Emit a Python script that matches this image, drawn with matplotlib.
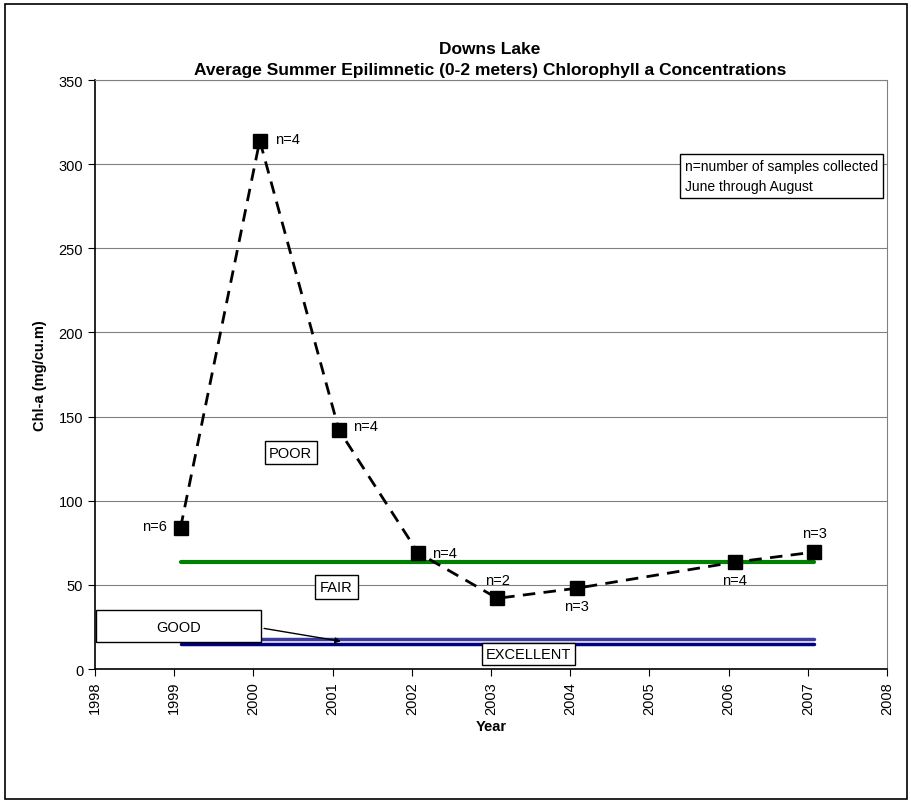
import matplotlib.pyplot as plt
from matplotlib.patches import Rectangle

plt.rcParams['font.family'] = ['Liberation Sans', 'DejaVu Sans']

# data
years = [1999, 2000, 2001, 2002, 2003, 2004, 2006, 2007]
chla = [84, 314, 142, 69, 42, 48, 63.5, 69.5]
n_samples = [6, 4, 4, 4, 2, 3, 4, 3]
label_offsets = [(-19, 1), (20, 1), (19, 3), (19, 0), (0, 13), (0, -13), (0, -13), (0, 14)]

# trophic thresholds
fair_level = 63.5
good_level = 18
excellent_level = 15

x = [y + 0.08 for y in years]

fig = plt.figure(figsize=(9.12, 8.03), dpi=100)
fig.patches.append(Rectangle((0.006, 0.004), 0.988, 0.99, transform=fig.transFigure,
                             fill=False, edgecolor='black', linewidth=1.2))
ax = fig.add_axes([0.1042, 0.1656, 0.8684, 0.7335])

ax.plot([x[0], x[-1]], [fair_level, fair_level], color='#008000', lw=3, solid_capstyle='round', zorder=2)
ax.plot([x[0], x[-1]], [good_level, good_level], color='#3a3aa0', lw=2.5, solid_capstyle='round', zorder=2)
ax.plot([x[0], x[-1]], [excellent_level, excellent_level], color='#000080', lw=2.5, solid_capstyle='round', zorder=2)

ax.plot(x, chla, color='black', lw=2, linestyle=(0, (4.5, 3)), marker='s', markersize=9.5, zorder=3)

for xi, yi, n, off in zip(x, chla, n_samples, label_offsets):
    ax.annotate('n=%d' % n, (xi, yi), xytext=off, textcoords='offset points',
                ha='center', va='center', fontsize=10.5)

ax.text(2000.47, 128.5, 'POOR', ha='center', va='center', fontsize=10.5, zorder=4,
        bbox=dict(boxstyle='square,pad=0.3', facecolor='white', edgecolor='black', lw=1))
ax.text(2001.05, 48.8, 'FAIR', ha='center', va='center', fontsize=10.5, zorder=4,
        bbox=dict(boxstyle='square,pad=0.35', facecolor='white', edgecolor='black', lw=1))
ax.text(2003.47, 8.9, 'EXCELLENT', ha='center', va='center', fontsize=10.5, zorder=4,
        bbox=dict(boxstyle='square,pad=0.25', facecolor='white', edgecolor='black', lw=1))

ax.add_patch(Rectangle((1998.01, 16), 2.09, 19.3, facecolor='white', edgecolor='black', lw=1, zorder=4))
ax.text(1999.05, 25, 'GOOD', ha='center', va='center', fontsize=10.5, zorder=5)
ax.annotate('', xy=(2001.14, 16.2), xytext=(2000.1, 24.4),
            arrowprops=dict(arrowstyle='-|>', color='black', lw=1, mutation_scale=8), zorder=5)

ax.text(0.745, 0.866, 'n=number of samples collected\nJune through August', transform=ax.transAxes,
        ha='left', va='top', fontsize=10, linespacing=1.55,
        bbox=dict(boxstyle='square,pad=0.35', facecolor='white', edgecolor='black', lw=1), zorder=4)

ax.set_xlim(1998, 2008)
ax.set_ylim(0, 350)
ax.set_xticks(range(1998, 2009))
ax.set_yticks(range(0, 351, 50))
ax.tick_params(axis='x', labelrotation=90, labelsize=10.5, direction='out', length=5)
ax.tick_params(axis='y', labelsize=10.5, direction='out', length=5)
ax.yaxis.grid(True, color='#808080', lw=0.8)
ax.set_axisbelow(True)
for side in ['top', 'right']:
    ax.spines[side].set_color('#808080')
ax.spines['left'].set_linewidth(1.2)
ax.spines['bottom'].set_linewidth(1.2)

ax.set_xlabel('Year', fontsize=10.5, fontweight='bold')
ax.set_ylabel('Chl-a (mg/cu.m)', fontsize=10.5, fontweight='bold', labelpad=8)
fig.text(0.537, 0.938, 'Downs Lake', ha='center', va='center', fontsize=12.5, fontweight='bold')
fig.text(0.537, 0.912, 'Average Summer Epilimnetic (0-2 meters) Chlorophyll a Concentrations',
         ha='center', va='center', fontsize=12.5, fontweight='bold')

fig.savefig('out.png', dpi=100)
